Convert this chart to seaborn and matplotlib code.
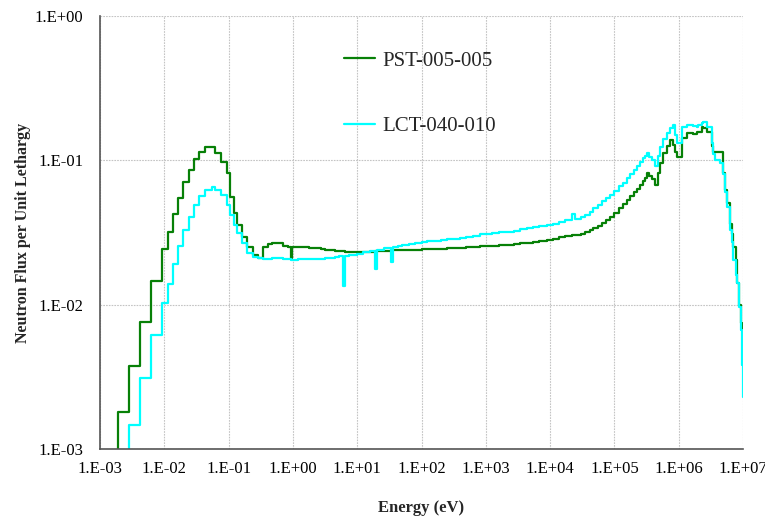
import numpy as np
import pandas as pd
import matplotlib
matplotlib.use("Agg")
import matplotlib.pyplot as plt
from matplotlib.ticker import LogLocator, FuncFormatter, NullFormatter
import seaborn as sns

# Group lower-edge energies (eV); flux per unit lethargy for each group.
energy_eV = [
    # thermal
    1.0e-3, 1.93e-3, 2.82e-3, 4.19e-3, 6.14e-3, 9.2e-3, 1.14e-2, 1.35e-2,
    1.63e-2, 1.97e-2, 2.39e-2, 2.90e-2, 3.50e-2, 4.33e-2, 5.44e-2, 6.14e-2,
    7.54e-2, 9.34e-2, 0.106, 0.121, 0.137, 0.160, 0.191, 0.242, 0.290,
    # low epithermal
    0.346, 0.41, 0.47, 0.57, 0.70, 0.85, 0.93, 0.97,
    # resonance region
    1.2, 1.5, 1.8, 2.2, 2.7, 3.2, 3.8, 4.5, 5.2, 6.1, 6.5, 7.5, 8.5, 10.0,
    12.5, 14.0, 16.0, 18.8, 20.2, 23.0, 26.0, 29.0, 33.5, 36.0, 43.0,
    # slowing-down region
    50.0, 65.0, 80.0, 100.0, 120.0, 160.0, 200.0, 250.0, 320.0, 400.0,
    500.0, 630.0, 800.0, 1.0e3, 1.25e3, 1.6e3, 2.0e3, 2.7e3, 3.4e3, 4.3e3,
    5.4e3, 6.8e3, 8.8e3, 1.1e4, 1.4e4, 1.7e4, 2.2e4, 2.4e4, 3.0e4, 3.5e4,
    4.1e4, 4.7e4, 5.5e4, 6.5e4, 7.5e4, 8.5e4, 1.0e5, 1.2e5, 1.35e5, 1.55e5,
    1.75e5, 2.0e5, 2.25e5, 2.5e5, 2.75e5, 3.0e5, 3.25e5,
    # fission region
    3.5e5, 3.8e5, 4.28e5, 4.7e5, 5.12e5, 5.8e5, 6.49e5, 7.33e5, 8.04e5,
    8.77e5, 9.52e5, 1.11e6, 1.33e6, 1.41e6, 1.69e6, 1.9e6, 2.02e6, 2.28e6,
    2.36e6, 2.72e6, 3.26e6, 3.45e6, 3.7e6, 4.39e6, 4.83e6, 5.2e6, 5.57e6,
    6.28e6, 6.67e6, 7.07e6, 7.77e6, 8.14e6, 8.6e6, 9.2e6, 9.5e6, 9.77e6,
    1.0e7,
]

flux_pst = [
    5e-4, 1.81e-3, 3.75e-3, 7.6e-3, 1.47e-2, 2.42e-2, 3.2e-2, 4.24e-2,
    5.5e-2, 7.1e-2, 8.57e-2, 0.1016, 0.115, 0.123, 0.123, 0.113,
    0.098, 0.082, 0.056, 0.043, 0.0356, 0.0296, 0.0252, 0.0221, 0.0210,
    0.0250, 0.0262, 0.0269, 0.0266, 0.0256, 0.0252, 0.0212, 0.0252,
    0.0251, 0.0250, 0.0248, 0.0246, 0.0243, 0.0241, 0.0239, 0.0237, 0.0235,
    0.0234, 0.0232, 0.0231, 0.0231, 0.0232, 0.0232, 0.0233, 0.0233, 0.0234,
    0.0235, 0.0235, 0.0236, 0.0236, 0.0237, 0.0238, 0.0238,
    0.0239, 0.0240, 0.0241, 0.0242, 0.0242, 0.0243, 0.0244, 0.0245, 0.0246,
    0.0247, 0.0249, 0.0251, 0.0253, 0.0254, 0.0256, 0.0258, 0.0260, 0.0262,
    0.0266, 0.0269, 0.0272, 0.0277, 0.0281, 0.0286, 0.0292, 0.0297, 0.0303,
    0.0305, 0.0311, 0.0318, 0.0327, 0.0338, 0.0352, 0.0370, 0.0388, 0.0407,
    0.0432, 0.0465, 0.0495, 0.053, 0.0565, 0.060, 0.0638, 0.0675, 0.072,
    0.076, 0.0813,
    0.0780, 0.0740, 0.0675, 0.082, 0.0953, 0.112, 0.125, 0.138, 0.128,
    0.115, 0.105, 0.142, 0.154, 0.154, 0.152, 0.156, 0.158, 0.171, 0.168,
    0.158, 0.125, 0.115, 0.115, 0.115, 0.0813, 0.062, 0.0505, 0.036, 0.031,
    0.025, 0.0204, 0.0141, 0.0099, 0.0075, 0.0068, 0.0068, 0.0039,
]

flux_lct = [
    5e-4, 5e-4, 1.47e-3, 3.08e-3, 6.2e-3, 1.02e-2, 1.39e-2, 1.9e-2,
    2.55e-2, 3.29e-2, 4.03e-2, 4.9e-2, 5.66e-2, 0.0622, 0.0656, 0.0622,
    0.0575, 0.049, 0.0418, 0.0356, 0.0312, 0.0266, 0.0227, 0.0213, 0.0210,
    0.0208, 0.0208, 0.0209, 0.0209, 0.0208, 0.0206, 0.0203, 0.0205,
    0.0206, 0.0207, 0.0207, 0.0207, 0.0208, 0.0210, 0.0212, 0.0215, 0.0216,
    0.0135, 0.0218, 0.0220, 0.0222, 0.0226, 0.0230, 0.0233, 0.0235, 0.0177,
    0.0238, 0.0241, 0.0245, 0.0247, 0.0199, 0.0250, 0.0255,
    0.0259, 0.0263, 0.0268, 0.0272, 0.0275, 0.0278, 0.0281, 0.0283, 0.0287,
    0.0291, 0.0295, 0.0300, 0.0307, 0.0310, 0.0314, 0.0318, 0.0321, 0.0326,
    0.0334, 0.0340, 0.0345, 0.0351, 0.0356, 0.0362, 0.0375, 0.0385, 0.0424,
    0.0390, 0.0405, 0.0420, 0.0440, 0.0465, 0.0490, 0.0520, 0.0548, 0.0575,
    0.0615, 0.0660, 0.0700, 0.075, 0.080, 0.086, 0.092, 0.0977, 0.103,
    0.107, 0.112,
    0.106, 0.100, 0.0912, 0.108, 0.124, 0.140, 0.154, 0.168, 0.176,
    0.150, 0.131, 0.171, 0.176, 0.176, 0.172, 0.171, 0.175, 0.180, 0.185,
    0.171, 0.131, 0.110, 0.100, 0.096, 0.080, 0.060, 0.0477, 0.0329, 0.027,
    0.0204, 0.0160, 0.0141, 0.0097, 0.0067, 0.0052, 0.0038, 0.0023,
]

assert len(energy_eV) == len(flux_pst) == len(flux_lct)

series_names = ["PST-005-005", "LCT-040-010"]
series_colors = ["#078007", "#00ffff"]

df = pd.concat([
    pd.DataFrame({"Energy": energy_eV, "Flux": flux_pst, "Case": series_names[0]}),
    pd.DataFrame({"Energy": energy_eV, "Flux": flux_lct, "Case": series_names[1]}),
], ignore_index=True)

sns.set_style("white")
plt.rcParams["font.family"] = ["Liberation Serif", "DejaVu Serif"]

fig = plt.figure(figsize=(7.65, 5.17), dpi=100)
ax = fig.add_axes([100 / 765, 1 - 449 / 517, 643 / 765, 433 / 517])

sns.lineplot(
    data=df, x="Energy", y="Flux", hue="Case", hue_order=series_names,
    palette=series_colors, estimator=None, sort=False,
    drawstyle="steps-post", linewidth=1.6, ax=ax,
)

ax.set_xscale("log")
ax.set_yscale("log")
ax.set_xlim(1e-3, 1e7)
ax.set_ylim(1e-3, 1.0)

fmt = FuncFormatter(lambda v, pos: "1.E{:+03d}".format(int(round(np.log10(v)))))
ax.xaxis.set_major_locator(LogLocator(base=10, numticks=20))
ax.yaxis.set_major_locator(LogLocator(base=10, numticks=20))
ax.xaxis.set_minor_locator(LogLocator(base=10, subs=np.arange(2, 10), numticks=200))
ax.yaxis.set_minor_locator(LogLocator(base=10, subs=np.arange(2, 10), numticks=200))
ax.xaxis.set_major_formatter(fmt)
ax.yaxis.set_major_formatter(fmt)
ax.xaxis.set_minor_formatter(NullFormatter())
ax.yaxis.set_minor_formatter(NullFormatter())

ax.grid(True, which="major", color="#c4c4c4", linestyle=(0, (1.5, 1)), linewidth=0.8)
ax.grid(False, which="minor")

for side in ("top", "right"):
    ax.spines[side].set_visible(False)
for side in ("left", "bottom"):
    ax.spines[side].set_color("#555555")
    ax.spines[side].set_linewidth(1.2)

ax.tick_params(which="major", direction="inout", length=8, width=1.0,
               color="#333333", labelsize=12, labelcolor="black")
ax.tick_params(axis="y", which="major", pad=8)
ax.tick_params(axis="x", which="major", pad=4.5)
ax.tick_params(which="minor", direction="in", length=3.5, width=0.9,
               color="#333333")

ax.set_xlabel("Energy (eV)", fontsize=12, fontweight="bold", labelpad=17)
ax.set_ylabel("Neutron Flux per Unit Lethargy", fontsize=11.5,
              fontweight="bold", labelpad=3)

handles, labels = ax.get_legend_handles_labels()
ax.legend(handles, labels, loc="upper left",
          bbox_to_anchor=((344 - 100) / 643, 1 - (51 - 16) / 433),
          frameon=False, fontsize=15, handlelength=1.5, handletextpad=0.35,
          labelspacing=2.2, borderpad=0, borderaxespad=0)

fig.savefig("out.png", dpi=100)
